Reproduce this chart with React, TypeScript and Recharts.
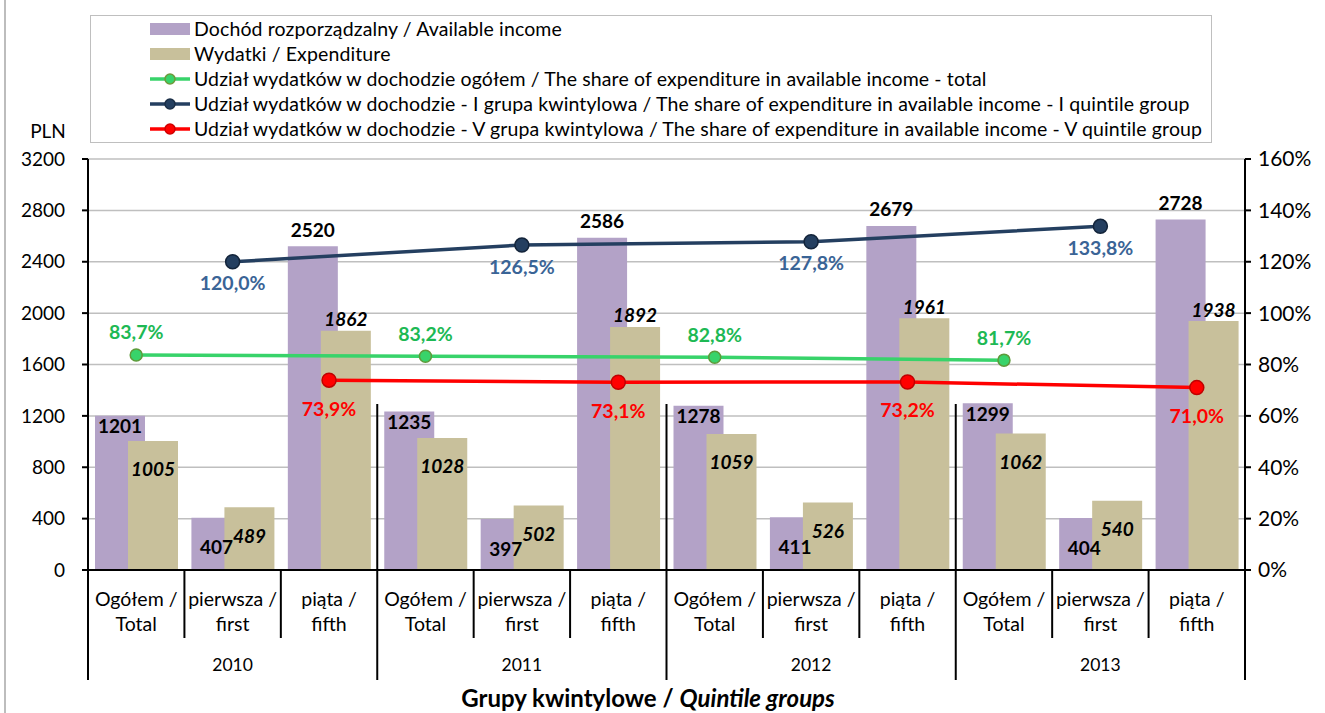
import React from "react";
import {
  ComposedChart,
  Bar,
  Line,
  XAxis,
  YAxis,
  CartesianGrid,
  LabelList,
} from "recharts";

const FONT = "Lato, 'Open Sans', sans-serif";

const years = ["2010", "2011", "2012", "2013"];
const groupsPl = ["Ogółem /", "pierwsza /", "piąta /"];
const groupsEn = ["Total", "first", "fifth"];

// PLN, per year: total, I quintile, V quintile
const income = [1201, 407, 2520, 1235, 397, 2586, 1278, 411, 2679, 1299, 404, 2728];
const expenditure = [1005, 489, 1862, 1028, 502, 1892, 1059, 526, 1961, 1062, 540, 1938];

// share of expenditure in income, %
const shareTotal = [83.7, 83.2, 82.8, 81.7];
const shareFirst = [120.0, 126.5, 127.8, 133.8];
const shareFifth = [73.9, 73.1, 73.2, 71.0];

const leftTicks = [0, 400, 800, 1200, 1600, 2000, 2400, 2800, 3200];
const rightTicks = [0, 20, 40, 60, 80, 100, 120, 140, 160];

const C_INC = "#B3A2C7";
const C_EXP = "#C8C09B";
const C_GREEN = "#38D36A";
const C_NAVY = "#243F60";
const C_RED = "#FF0000";

const data = income.map((inc, i) => {
  const y = Math.floor(i / 3);
  const g = i % 3;
  return {
    key: i,
    year: years[y],
    pl: groupsPl[g],
    en: groupsEn[g],
    income: inc,
    expenditure: expenditure[i],
    total: g === 0 ? shareTotal[y] : null,
    first: g === 1 ? shareFirst[y] : null,
    fifth: g === 2 ? shareFifth[y] : null,
  };
});

const W = 1325;
const H = 713;
const LEFT = 88;
const RIGHT = 1245;
const BAND = (RIGHT - LEFT) / data.length;

const pct = (v: number) => v.toFixed(1).replace(".", ",") + "%";

const barLabel = (kind: "inc" | "exp") => (props: any) => {
  const { x, y, width, value, index } = props;
  const g = index % 3;
  let dy: number;
  if (kind === "inc") dy = g === 0 ? 10 : g === 1 ? 29 : -17;
  else dy = g === 2 ? -12 : 28;
  return (
    <text
      x={x + width / 2}
      y={y + dy}
      textAnchor="middle"
      dominantBaseline="central"
      fontFamily={FONT}
      fontSize={19}
      fontWeight="bold"
      fontStyle={kind === "exp" ? "italic" : "normal"}
      fill="#000"
    >
      {value}
    </text>
  );
};

const lineLabel = (color: string, dy: number) => (props: any) => {
  const { x, y, value } = props;
  if (value == null) return null;
  return (
    <text
      x={x}
      y={y + dy}
      textAnchor="middle"
      dominantBaseline="central"
      fontFamily={FONT}
      fontSize={19.5}
      fontWeight="bold"
      fill={color}
    >
      {pct(value)}
    </text>
  );
};

const CategoryTick = (props: any) => {
  const { x, y, index, payload } = props;
  const row = data[index] || data[payload.index];
  const g = index % 3;
  const leftX = x - BAND / 2;
  const isLast = index === data.length - 1;
  return (
    <g>
      <line x1={leftX} y1={y} x2={leftX} y2={g === 0 ? y + 110 : y + 68} stroke="#000" strokeWidth={2} />
      {g === 0 && index > 0 && (
        <line x1={leftX} y1={y} x2={leftX} y2={y - 166} stroke="#000" strokeWidth={2} />
      )}
      {isLast && (
        <line x1={x + BAND / 2} y1={y} x2={x + BAND / 2} y2={y + 110} stroke="#000" strokeWidth={2} />
      )}
      <text x={x} y={y + 28} textAnchor="middle" dominantBaseline="central" fontFamily={FONT} fontSize={19.5} fill="#000">
        {row.pl}
      </text>
      <text x={x} y={y + 53} textAnchor="middle" dominantBaseline="central" fontFamily={FONT} fontSize={19.5} fill="#000">
        {row.en}
      </text>
      {g === 1 && (
        <text x={x} y={y + 94} textAnchor="middle" dominantBaseline="central" fontFamily={FONT} fontSize={17.5} fill="#000">
          {row.year}
        </text>
      )}
    </g>
  );
};

const legendItems = [
  { type: "bar", color: C_INC, label: "Dochód rozporządzalny / Available income" },
  { type: "bar", color: C_EXP, label: "Wydatki / Expenditure" },
  {
    type: "line",
    color: C_GREEN,
    dot: "#6E9A3A",
    label: "Udział wydatków w dochodzie ogółem / The share of expenditure in available income - total",
  },
  {
    type: "line",
    color: C_NAVY,
    dot: "#1A2E47",
    label:
      "Udział wydatków w dochodzie - I grupa kwintylowa / The share of expenditure in available income - I quintile group",
  },
  {
    type: "line",
    color: C_RED,
    dot: "#D00000",
    label:
      "Udział wydatków w dochodzie - V grupa kwintylowa / The share of expenditure in available income - V quintile group",
  },
];

const LegendBox = () => (
  <div
    style={{
      position: "absolute",
      left: 90,
      top: 15,
      width: 1122,
      height: 128,
      boxSizing: "border-box",
      border: "1.5px solid #BFBFBF",
      background: "#fff",
      fontFamily: FONT,
      fontSize: 19.5,
      letterSpacing: 0.12,
      color: "#000",
    }}
  >
    {legendItems.map((it) => (
      <div key={it.label} style={{ height: 25, display: "flex", alignItems: "center", paddingLeft: 59 }}>
        <svg width={40} height={16} style={{ flex: "none" }}>
          {it.type === "bar" ? (
            <rect x={0} y={2} width={40} height={12} fill={it.color} />
          ) : (
            <>
              <line x1={0} y1={8} x2={40} y2={8} stroke={it.color} strokeWidth={3.5} />
              <circle cx={20} cy={8} r={5} fill={it.color} stroke={it.dot} strokeWidth={1.5} />
            </>
          )}
        </svg>
        <span style={{ marginLeft: 4, whiteSpace: "nowrap" }}>{it.label}</span>
      </div>
    ))}
  </div>
);

export default function App() {
  return (
    <div
      style={{
        position: "absolute",
        left: 0,
        top: 0,
        width: W,
        height: H,
        background: "#fff",
        overflow: "hidden",
      }}
    >
      <div style={{ position: "absolute", left: 4, top: 0, width: 2, height: H, background: "#BDBDBD" }} />
      <ComposedChart
        width={W}
        height={H}
        data={data}
        margin={{ top: 159, right: 0, bottom: 0, left: 0 }}
        barSize={50}
        barGap={-17}
      >
        <CartesianGrid vertical={false} stroke="#BFBFBF" strokeWidth={1.5} yAxisId="left" />
        <XAxis
          dataKey="key"
          height={143}
          interval={0}
          tickLine={false}
          tickSize={0}
          tickMargin={0}
          axisLine={{ stroke: "#000", strokeWidth: 2 }}
          tick={<CategoryTick />}
        />
        <YAxis
          yAxisId="left"
          width={88}
          domain={[0, 3200]}
          ticks={leftTicks}
          interval={0}
          tickSize={6}
          tickMargin={17}
          axisLine={{ stroke: "#000", strokeWidth: 2 }}
          tickLine={{ stroke: "#000", strokeWidth: 2 }}
          tick={{ fill: "#000", fontFamily: FONT, fontSize: 19 }}
        />
        <YAxis
          yAxisId="right"
          orientation="right"
          width={80}
          domain={[0, 160]}
          ticks={rightTicks}
          interval={0}
          tickSize={6}
          tickMargin={7}
          tickFormatter={(v: number) => v + "%"}
          axisLine={{ stroke: "#000", strokeWidth: 2 }}
          tickLine={{ stroke: "#000", strokeWidth: 2 }}
          tick={{ fill: "#000", fontFamily: FONT, fontSize: 21, textAnchor: "start" }}
        />
        <Bar yAxisId="left" dataKey="income" fill={C_INC} isAnimationActive={false}>
          <LabelList dataKey="income" content={barLabel("inc")} />
        </Bar>
        <Bar yAxisId="left" dataKey="expenditure" fill={C_EXP} isAnimationActive={false}>
          <LabelList dataKey="expenditure" content={barLabel("exp")} />
        </Bar>
        <Line
          yAxisId="right"
          dataKey="total"
          stroke={C_GREEN}
          strokeWidth={3.5}
          connectNulls
          dot={{ r: 6, fill: C_GREEN, stroke: "#5E9A3A", strokeWidth: 1.5 }}
          isAnimationActive={false}
        >
          <LabelList dataKey="total" content={lineLabel("#1DB954", -23)} />
        </Line>
        <Line
          yAxisId="right"
          dataKey="first"
          stroke={C_NAVY}
          strokeWidth={3.5}
          connectNulls
          dot={{ r: 7, fill: C_NAVY, stroke: "#13243A", strokeWidth: 1.5 }}
          isAnimationActive={false}
        >
          <LabelList dataKey="first" content={lineLabel("#3A6496", 21)} />
        </Line>
        <Line
          yAxisId="right"
          dataKey="fifth"
          stroke={C_RED}
          strokeWidth={3.5}
          connectNulls
          dot={{ r: 7, fill: C_RED, stroke: "#C00000", strokeWidth: 1.5 }}
          isAnimationActive={false}
        >
          <LabelList dataKey="fifth" content={lineLabel(C_RED, 28)} />
        </Line>
      </ComposedChart>
      <LegendBox />
      <div
        style={{
          position: "absolute",
          left: 28,
          top: 119,
          width: 40,
          textAlign: "center",
          fontFamily: FONT,
          fontSize: 19,
          color: "#000",
        }}
      >
        PLN
      </div>
      <div
        style={{
          position: "absolute",
          left: 0,
          width: 1296,
          top: 683,
          textAlign: "center",
          fontFamily: FONT,
          fontSize: 24,
          fontWeight: "bold",
          color: "#000",
        }}
      >
        Grupy kwintylowe / <i>Quintile groups</i>
      </div>
    </div>
  );
}
